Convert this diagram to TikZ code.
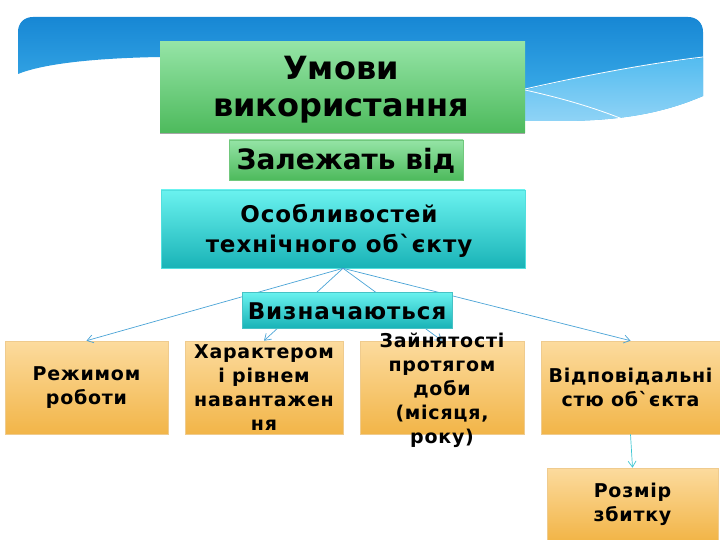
\documentclass[tikz,border=0pt]{standalone}
\usepackage{fontspec}
\setmainfont{DejaVu Sans}[Ligatures=TeXOff]
\usetikzlibrary{arrows.meta}
\definecolor{bantop}{HTML}{1787D4}
\definecolor{banbot}{HTML}{45B6EE}
\definecolor{banlight}{HTML}{8FD3F6}
\definecolor{grtop}{HTML}{95E4A6}
\definecolor{grbot}{HTML}{4DBA5C}
\definecolor{cytop}{HTML}{6AF2EF}
\definecolor{cybot}{HTML}{19B3B7}
\definecolor{ortop}{HTML}{FCDB9E}
\definecolor{orbot}{HTML}{F2B548}
\definecolor{orline}{HTML}{EFCB8E}
\definecolor{arrowblue}{HTML}{4AA3D6}
\definecolor{arrowcyan}{HTML}{3CC6D2}
\tikzset{
  greenbox/.style={top color=grtop,bottom color=grbot,draw=none,inner sep=0pt},
  cyanbox/.style={top color=cytop,bottom color=cybot,draw=cytop!70!cybot,line width=0.6pt,inner sep=0pt},
  orangebox/.style={top color=ortop,bottom color=orbot,draw=orline,line width=0.6pt,inner sep=0pt},
  lbl/.style={font=\bfseries\fontsize{19}{24}\selectfont\addfontfeatures{LetterSpace=4},align=center,text=black,inner sep=0pt},
  conn/.style={draw=arrowblue,line width=0.7pt,-{Straight Barb[length=6pt,width=8pt]}},
}
\begin{document}
\begin{tikzpicture}[x=1pt,y=-1pt]
\useasboundingbox (0,0) rectangle (720,540);
% banner
\shade[top color=bantop,bottom color=banbot]
  (18,74) -- (18,32) .. controls (18,23) and (24,17) .. (33,17) -- (688,17)
  .. controls (697,17) and (703,23) .. (703,32) -- (703,96)
  .. controls (670,110) and (630,121) .. (560,121) -- (160,121) -- (160,57)
  .. controls (100,58) and (45,63) .. (18,74) -- cycle;
\shade[top color=banbot!80!banlight,bottom color=banlight]
  (525,90) .. controls (600,72) and (660,62) .. (703,58) -- (703,96)
  .. controls (670,110) and (630,121) .. (560,121) -- (525,121) -- cycle;
\draw[white,line width=0.8pt] (525,89) .. controls (600,72) and (660,62) .. (703,57);
\draw[white,line width=0.8pt] (525,90) .. controls (570,100) and (600,110) .. (625,120);
% title
\fill[black!35] (160,132) rectangle (525,134.5);
\node[greenbox,minimum width=365pt,minimum height=91pt] (title) at (342.5,87.5) {};
\node[font=\bfseries\fontsize{32}{37}\selectfont,align=center,inner sep=0pt] (titletxt) at (341,90) {Умови\\використання};
% depends
\node[greenbox,draw=grbot!80!white,line width=0.5pt,minimum width=234pt,minimum height=40pt] (dep) at (346,160) {};
\node[font=\bfseries\fontsize{28}{32}\selectfont,inner sep=0pt] (deptxt) at (346,161) {Залежать від};
% features
\node[cyanbox,minimum width=364pt,minimum height=78pt] (osob) at (343,229) {};
\node[font=\bfseries\fontsize{23}{30}\selectfont\addfontfeatures{LetterSpace=4},align=center,inner sep=0pt] (osobtxt) at (339,231) {Особливостей\\технічного об`єкту};
% bottom boxes
\node[orangebox,minimum width=163pt,minimum height=93pt] (b1) at (86.5,387.5) {};
\node[orangebox,minimum width=158pt,minimum height=93pt] (b2) at (264,387.5) {};
\node[orangebox,minimum width=164pt,minimum height=93pt] (b3) at (442,387.5) {};
\node[orangebox,minimum width=179pt,minimum height=93pt] (b4) at (630.5,387.5) {};
\node[orangebox,minimum width=171pt,minimum height=72pt] (b5) at (632.5,504) {};
% connectors
\draw[conn] (osob.south) -- (b1.north);
\draw[conn] (osob.south) -- (b2.north);
\draw[conn] (osob.south) -- (b3.north);
\draw[conn] (osob.south) -- (b4.north);
\draw[conn,draw=arrowcyan] (b4.south) -- (b5.north);
% determined
\node[cyanbox,draw=cybot!80!white,line width=0.8pt,minimum width=210pt,minimum height=36pt] (det) at (347,310) {};
\node[font=\bfseries\fontsize{23}{28}\selectfont\addfontfeatures{LetterSpace=4},inner sep=0pt] (dettxt) at (347,311) {Визначаються};
% labels
\node[lbl] (t1) at (b1.center) {Режимом\\роботи};
\node[lbl] (t2) at (b2.center) {Характером\\і рівнем\\навантажен\\ня};
\node[lbl] (t3) at (442,390) {Зайнятості\\протягом\\доби\\(місяця,\\року)};
\node[lbl] (t4) at (b4.center) {Відповідальні\\стю об`єкта};
\node[lbl] (t5) at (b5.center) {Розмір\\збитку};
\end{tikzpicture}
\end{document}
